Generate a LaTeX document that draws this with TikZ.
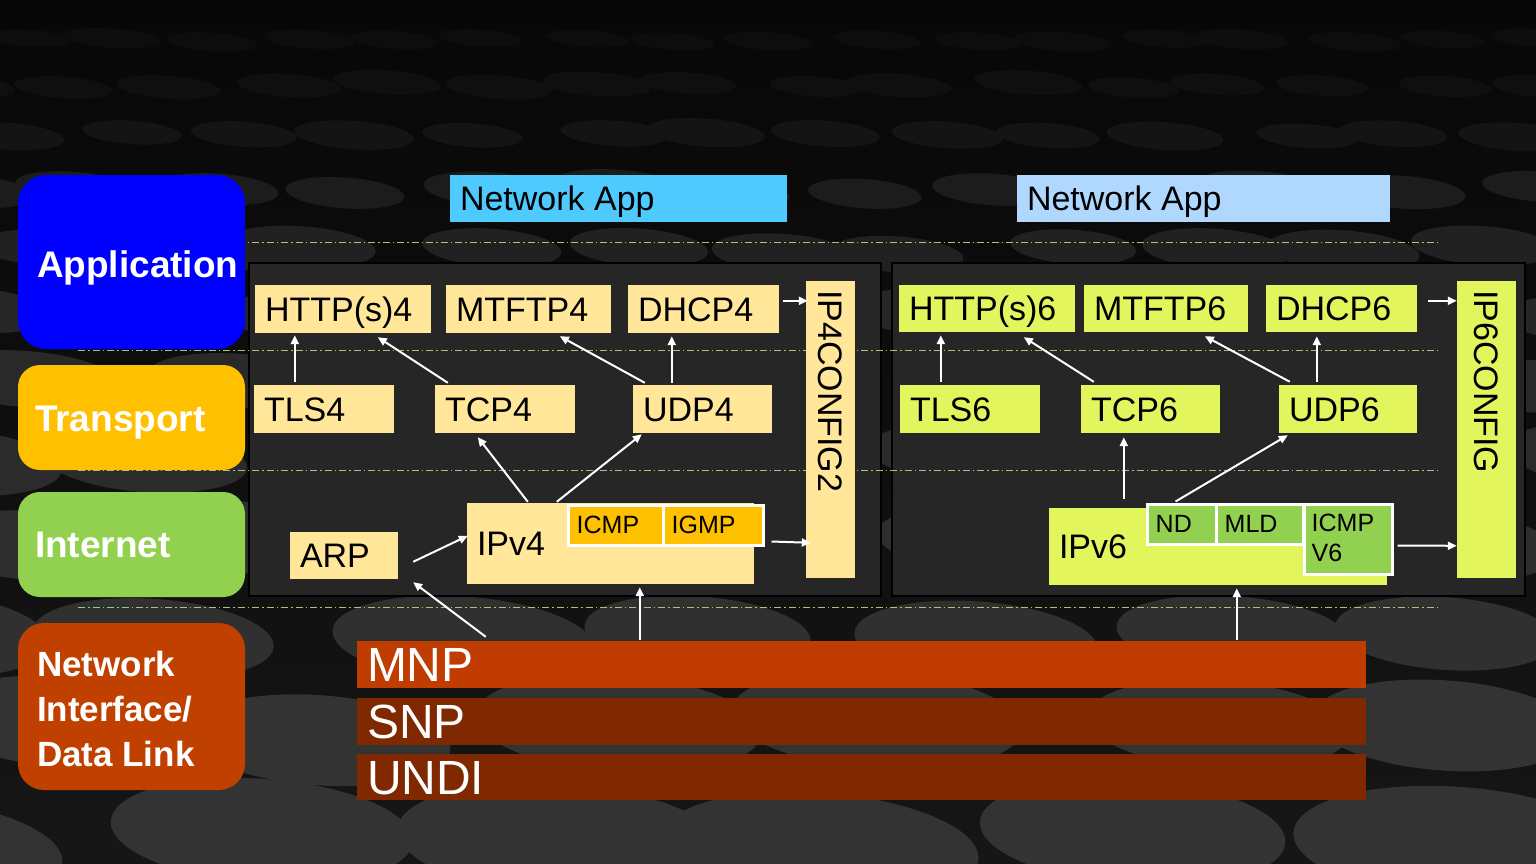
\documentclass[tikz,border=0pt]{standalone}
\usepackage{fontspec}
\setmainfont{Liberation Sans}
\usetikzlibrary{arrows.meta,fit,calc}
\definecolor{bgA}{HTML}{070707}
\definecolor{bgB}{HTML}{161616}
\definecolor{panel}{HTML}{262626}
\definecolor{pale4}{HTML}{FFE699}
\definecolor{lime6}{HTML}{E3F55C}
\definecolor{amber}{HTML}{FFC000}
\definecolor{leaf}{HTML}{92D050}
\definecolor{appblue}{HTML}{0000FF}
\definecolor{nif}{HTML}{C04000}
\definecolor{mnpc}{HTML}{C03C00}
\definecolor{snpc}{HTML}{802800}
\definecolor{naL}{HTML}{4FCAFF}
\definecolor{naR}{HTML}{B0D8FF}
\definecolor{dashg}{HTML}{A8C47C}
\newcommand{\nbox}[8]{%
  \node[fit={(#2,#3) (#4,#5)}, inner sep=0pt, #6] (#1) {};%
  \node[#7, anchor=west] (#1t) at ([xshift=10pt]#1.west) {#8};}
\begin{document}
\begin{tikzpicture}[x=1pt,y=-1pt,
  lbl/.style={font=\fontsize{34}{40}\selectfont, text=black, inner sep=0pt, text height=24.3pt, text depth=0pt},
  sm/.style={font=\fontsize{25}{30}\selectfont, text=black, inner sep=0pt, text height=17.9pt, text depth=0pt},
  big/.style={font=\fontsize{48}{52}\selectfont, text=white, inner sep=0pt, text height=34.4pt, text depth=0pt},
  lay/.style={font=\bfseries\fontsize{37}{45}\selectfont, text=white, inner sep=0pt, text height=26.5pt, text depth=0pt},
  arr/.style={draw=white, line width=2pt, -{Triangle[length=9pt,width=8pt]}},
  dl/.style={draw=dashg, line width=1pt, dash pattern=on 7pt off 3pt on 1.5pt off 3pt},
  cell/.style={draw=white, line width=3pt}]
\useasboundingbox (0,0) rectangle (1536,864);
% background
\begin{scope}
\clip (0,0) rectangle (1536,864);
\shade[top color=bgA, bottom color=bgB] (0,0) rectangle (1536,864);
\pgfmathsetseed{7}
\foreach \yy/\rx/\ry/\g [count=\i] in {40/45/9/5, 85/50/11/6, 135/55/13/8, 190/62/16/11, 250/70/19/13, 315/78/22/15, 385/88/26/16, 460/98/30/17, 545/110/35/18, 635/122/40/19, 730/135/46/20, 840/150/52/20}{
  \pgfmathsetmacro\dx{2.1*\rx}
  \pgfmathsetmacro\off{mod(\i,2)*0.5*\dx-0.3*\dx}
  \foreach \k in {0,...,16}{
    \pgfmathsetmacro\jx{(rnd-0.5)*0.3*\dx}
    \pgfmathsetmacro\jy{(rnd-0.5)*0.5*\ry}
    \pgfmathsetmacro\sc{0.9+0.2*rnd}
    \fill[white!\g!black, rotate around={-4:({\off+\k*\dx+\jx},{\yy+\jy})}] ({\off+\k*\dx+\jx},{\yy+\jy}) ellipse [x radius={\sc*\rx}, y radius={\sc*\ry}];
  }
}
\end{scope}
% panels
\node[fit={(249,263) (881,596)}, inner sep=0pt, fill=panel, draw=black, line width=1.5pt] (panL) {};
\node[fit={(892,263) (1525,596)}, inner sep=0pt, fill=panel, draw=black, line width=1.5pt] (panR) {};
% separators
\draw[dl] (78,242) -- (1440,242);
\draw[dl] (78,350) -- (1440,350);
\draw[dl] (78,470) -- (1440,470);
\draw[dl] (78,607) -- (1440,607);
% layer boxes
\node[fit={(18,175) (245,349)}, inner sep=0pt, fill=appblue, rounded corners=28pt] (app) {};
\node[lay, anchor=west] (appt) at ([xshift=19pt,yshift=-2pt]app.west) {Application};
\node[fit={(18,365) (245,470)}, inner sep=0pt, fill=amber, rounded corners=22pt] (trn) {};
\node[lay, anchor=west] (trnt) at ([xshift=17pt,yshift=-1pt]trn.west) {Transport};
\node[fit={(18,492) (245,597)}, inner sep=0pt, fill=leaf, rounded corners=22pt] (inet) {};
\node[lay, anchor=west] (inett) at ([xshift=17pt]inet.west) {Internet};
\node[fit={(18,623) (245,790)}, inner sep=0pt, fill=nif, rounded corners=26pt] (nif) {};
\node[anchor=west, align=left, text=white, inner sep=0pt, font=\bfseries\fontsize{35}{45}\selectfont] (nift) at ([xshift=19pt,yshift=-2pt]nif.west) {Network\\Interface/\\Data Link};
% network apps
\nbox{netappL}{450}{175}{787}{222}{fill=naL}{lbl}{Network App}
\nbox{netappR}{1017}{175}{1390}{222}{fill=naR}{lbl}{Network App}
% IPv4 stack
\nbox{http4}{255}{285}{431}{333}{fill=pale4}{lbl}{HTTP(s)4}
\nbox{mtftp4}{446}{285}{611}{333}{fill=pale4}{lbl}{MTFTP4}
\nbox{dhcp4}{628}{285}{779}{333}{fill=pale4}{lbl}{DHCP4}
\nbox{tls4}{254}{385}{394}{433}{fill=pale4}{lbl}{TLS4}
\nbox{tcp4}{435}{385}{575}{433}{fill=pale4}{lbl}{TCP4}
\nbox{udp4}{633}{385}{772}{433}{fill=pale4}{lbl}{UDP4}
\nbox{arp}{290}{532}{398}{579}{fill=pale4}{lbl}{ARP}
\nbox{ipv4}{467}{503}{754}{584}{fill=pale4}{lbl}{IPv4}
\nbox{icmp4}{568}{505}{663}{545}{fill=amber,cell}{sm}{ICMP}
\nbox{igmp4}{663}{505}{763}{545}{fill=amber,cell}{sm}{IGMP}
\node[fit={(806,281) (855,578)}, inner sep=0pt, fill=pale4] (ip4cfg) {};
\node[lbl, rotate=-90, anchor=west] (ip4cfgt) at ([yshift=-9pt]ip4cfg.north) {IP4CONFIG2};
% IPv6 stack
\nbox{http6}{899}{285}{1075}{332}{fill=lime6}{lbl}{HTTP(s)6}
\nbox{mtftp6}{1084}{285}{1248}{332}{fill=lime6}{lbl}{MTFTP6}
\nbox{dhcp6}{1266}{285}{1417}{332}{fill=lime6}{lbl}{DHCP6}
\nbox{tls6}{900}{385}{1040}{433}{fill=lime6}{lbl}{TLS6}
\nbox{tcp6}{1081}{385}{1220}{433}{fill=lime6}{lbl}{TCP6}
\nbox{udp6}{1279}{385}{1417}{433}{fill=lime6}{lbl}{UDP6}
\nbox{ipv6}{1049}{508}{1387}{585}{fill=lime6}{lbl}{IPv6}
\nbox{nd6}{1147}{504}{1216}{544}{fill=leaf,cell}{sm}{ND}
\nbox{mld6}{1216}{504}{1303}{544}{fill=leaf,cell}{sm}{MLD}
\node[fit={(1304,504) (1392,574)}, inner sep=0pt, fill=leaf, cell] (icmp6) {};
\node[anchor=north west, align=left, inner sep=0pt, text=black, font=\fontsize{25}{30}\selectfont] (icmp6t) at ([xshift=9pt,yshift=-11pt]icmp6.north west) {ICMP\\V6};
\node[fit={(1457,281) (1516,578)}, inner sep=0pt, fill=lime6] (ip6cfg) {};
\node[lbl, rotate=-90, anchor=west] (ip6cfgt) at ([yshift=-9pt]ip6cfg.north) {IP6CONFIG};
% link layer bars
\nbox{mnp}{357}{641}{1366}{688}{fill=mnpc}{big}{MNP}
\nbox{snp}{357}{698}{1366}{745}{fill=snpc}{big}{SNP}
\nbox{undi}{357}{754}{1366}{800}{fill=snpc}{big}{UNDI}
% arrows IPv4
\draw[arr] ([xshift=41pt,yshift=3pt]tls4.north west) -- ([xshift=40pt,yshift=-2pt]http4.south west);
\draw[arr] ([xshift=13pt,yshift=2pt]tcp4.north west) -- ([xshift=123pt,yshift=-4pt]http4.south west);
\draw[arr] ([xshift=12pt,yshift=2pt]udp4.north west) -- ([xshift=114pt,yshift=-3pt]mtftp4.south west);
\draw[arr] ([xshift=39pt,yshift=2pt]udp4.north west) -- ([xshift=44pt,yshift=-3pt]dhcp4.south west);
\draw[arr] ([xshift=61pt,yshift=1pt]ipv4.north west) -- ([xshift=43pt,yshift=-4pt]tcp4.south west);
\draw[arr] ([xshift=90pt,yshift=1pt]ipv4.north west) -- ([xshift=9pt,yshift=-1pt]udp4.south west);
\draw[arr] ([xshift=4pt,yshift=-16pt]dhcp4.north east) -- ([xshift=2pt,yshift=-20pt]ip4cfg.north west);
\draw[arr] ([xshift=7pt,yshift=-38pt]igmp4.north east) -- ([xshift=5pt,yshift=-262pt]ip4cfg.north west);
\draw[arr] ([xshift=15pt,yshift=-30pt]arp.north east) -- ([xshift=1pt,yshift=-33pt]ipv4.north west);
\draw[arr] ([xshift=129pt,yshift=4pt]mnp.north west) -- ([xshift=15pt,yshift=-3pt]arp.south east);
\draw[arr] ([xshift=283pt,yshift=1pt]mnp.north west) -- ([xshift=173pt,yshift=-3pt]ipv4.south west);
% arrows IPv6
\draw[arr] ([xshift=41pt,yshift=3pt]tls6.north west) -- ([xshift=42pt,yshift=-3pt]http6.south west);
\draw[arr] ([xshift=13pt,yshift=3pt]tcp6.north west) -- ([xshift=125pt,yshift=-5pt]http6.south west);
\draw[arr] ([xshift=11pt,yshift=3pt]udp6.north west) -- ([xshift=121pt,yshift=-4pt]mtftp6.south west);
\draw[arr] ([xshift=38pt,yshift=3pt]udp6.north west) -- ([xshift=51pt,yshift=-4pt]dhcp6.south west);
\draw[arr] ([xshift=75pt,yshift=9pt]ipv6.north west) -- ([xshift=43pt,yshift=-4pt]tcp6.south west);
\draw[arr] ([xshift=30pt,yshift=1pt]nd6.north west) -- ([xshift=9pt,yshift=-2pt]udp6.south west);
\draw[arr] ([xshift=11pt,yshift=-16pt]dhcp6.north east) -- ([xshift=0pt,yshift=-20pt]ip6cfg.north west);
\draw[arr] ([xshift=4pt,yshift=-43pt]icmp6.north east) -- ([xshift=0pt,yshift=-265pt]ip6cfg.north west);
\draw[arr] ([xshift=880pt,yshift=1pt]mnp.north west) -- ([xshift=188pt,yshift=-3pt]ipv6.south west);
\end{tikzpicture}
\end{document}
